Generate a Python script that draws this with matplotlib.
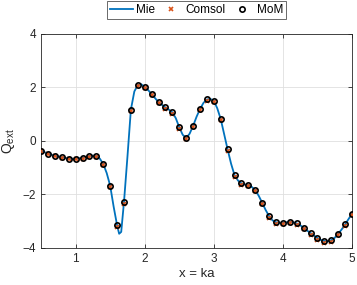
import matplotlib
matplotlib.use('Agg')
import matplotlib.pyplot as plt
import numpy as np

plt.rcParams['font.family'] = ['Liberation Sans', 'DejaVu Sans']
plt.rcParams['mathtext.fontset'] = 'custom'
plt.rcParams['mathtext.rm'] = 'Liberation Sans'

# sampled points (MoM and Comsol share the x grid)
x_pts = [0.5, 0.6, 0.7, 0.8, 0.9, 1.0, 1.1, 1.2, 1.3, 1.4, 1.5, 1.6, 1.7, 1.8, 1.9,
         2.0, 2.1, 2.2, 2.3, 2.4, 2.5, 2.6, 2.7, 2.8, 2.9, 3.0, 3.1, 3.2, 3.3, 3.4,
         3.5, 3.6, 3.7, 3.8, 3.9, 4.0, 4.1, 4.2, 4.3, 4.4, 4.5, 4.6, 4.7, 4.8, 4.9, 5.0]
mom = [-0.36, -0.47, -0.55, -0.60, -0.66, -0.66, -0.63, -0.56, -0.57, -0.86, -1.67,
       -3.15, -2.29, 1.17, 2.09, 2.01, 1.75, 1.45, 1.25, 1.07, 0.51, 0.11, 0.56, 1.19,
       1.55, 1.50, 0.82, -0.32, -1.28, -1.59, -1.65, -1.84, -2.31, -2.81, -3.04, -3.06,
       -3.03, -3.08, -3.25, -3.44, -3.63, -3.74, -3.71, -3.47, -3.12, -2.72]
comsol = [-0.39, -0.50, -0.58, -0.63, -0.69, -0.69, -0.66, -0.59, -0.60, -0.89, -1.71,
          -3.20, -2.35, 1.12, 2.05, 1.97, 1.71, 1.41, 1.21, 1.02, 0.46, 0.06, 0.51, 1.14,
          1.50, 1.45, 0.77, -0.37, -1.33, -1.64, -1.70, -1.89, -2.36, -2.87, -3.10, -3.11,
          -3.08, -3.13, -3.30, -3.50, -3.69, -3.80, -3.77, -3.52, -3.17, -2.77]

# Mie curve, read at finer spacing
x_mie = [0.5, 0.55, 0.6, 0.65, 0.7, 0.75, 0.8, 0.85, 0.9, 0.95, 1.0, 1.05, 1.1, 1.15,
         1.2, 1.25, 1.3, 1.35, 1.4, 1.45, 1.5, 1.55, 1.6, 1.63, 1.66, 1.7, 1.75, 1.8,
         1.85, 1.9, 1.95, 2.0, 2.05, 2.1, 2.15, 2.2, 2.25, 2.3, 2.35, 2.4, 2.45, 2.5,
         2.55, 2.6, 2.65, 2.7, 2.75, 2.8, 2.85, 2.9, 2.95, 3.0, 3.05, 3.1, 3.15, 3.2,
         3.25, 3.3, 3.35, 3.4, 3.45, 3.5, 3.55, 3.6, 3.65, 3.7, 3.75, 3.8, 3.85, 3.9,
         3.95, 4.0, 4.05, 4.1, 4.15, 4.2, 4.25, 4.3, 4.35, 4.4, 4.45, 4.5, 4.55, 4.6,
         4.65, 4.7, 4.75, 4.8, 4.85, 4.9, 4.95, 5.0]
mie = [-0.36, -0.42, -0.47, -0.51, -0.55, -0.58, -0.60, -0.63, -0.66, -0.67, -0.66,
       -0.65, -0.63, -0.60, -0.56, -0.55, -0.57, -0.66, -0.86, -1.20, -1.67, -2.45,
       -3.15, -3.47, -3.40, -2.29, -0.60, 1.17, 1.85, 2.09, 2.12, 2.01, 1.90, 1.75, 1.60,
       1.45, 1.35, 1.25, 1.17, 1.07, 0.85, 0.51, 0.23, 0.11, 0.27, 0.56, 0.90, 1.19,
       1.42, 1.55, 1.57, 1.50, 1.22, 0.82, 0.25, -0.32, -0.85, -1.28, -1.48, -1.59,
       -1.63, -1.65, -1.72, -1.84, -2.05, -2.31, -2.58, -2.81, -2.97, -3.04, -3.06,
       -3.06, -3.04, -3.03, -3.04, -3.08, -3.15, -3.25, -3.35, -3.44, -3.54, -3.63,
       -3.70, -3.74, -3.75, -3.71, -3.62, -3.47, -3.31, -3.12, -2.92, -2.72]

fig = plt.figure(figsize=(3.57, 2.85), dpi=100)
ax = fig.add_axes([0.115, 0.130, 0.871, 0.751])

ax.plot(x_mie, mie, color='#0072BD', lw=1.3, label='Mie', zorder=2)
ax.plot(x_pts, comsol, ls='none', marker='x', ms=3.5, mew=1.2, color='#D95319',
        label='Comsol', zorder=3)
ax.plot(x_pts, mom, ls='none', marker='o', ms=3.8, mew=1.2, mfc='none', mec='black',
        label='MoM', zorder=4)

ax.set_xlim(0.5, 5)
ax.set_ylim(-4, 4)
ax.set_xticks([1, 2, 3, 4, 5])
ax.set_yticks([-4, -2, 0, 2, 4])
ax.grid(True, color='#DFDFDF', lw=0.6)
ax.set_axisbelow(True)
ax.tick_params(direction='in', labelsize=8.5, length=3, width=0.6, colors='#262626',
               top=True, right=True, labelcolor='#262626')
for s in ax.spines.values():
    s.set_color('#262626')
    s.set_linewidth(0.6)
ax.set_xlabel('x = ka', fontsize=9.5, color='#262626', labelpad=2)
ax.set_ylabel(r'$\mathrm{Q}_{\mathrm{ext}}$', fontsize=10, color='#262626', labelpad=4)

leg = fig.legend(loc='upper center', bbox_to_anchor=(196.5 / 357, 1 - 1.5 / 285), ncol=3,
                 fontsize=8.5, frameon=True, fancybox=False, edgecolor='#262626',
                 handlelength=1.9, handletextpad=0.3, columnspacing=0.4,
                 borderpad=0.25, borderaxespad=0)
leg.get_frame().set_linewidth(0.6)

fig.savefig('out.png', dpi=100)
